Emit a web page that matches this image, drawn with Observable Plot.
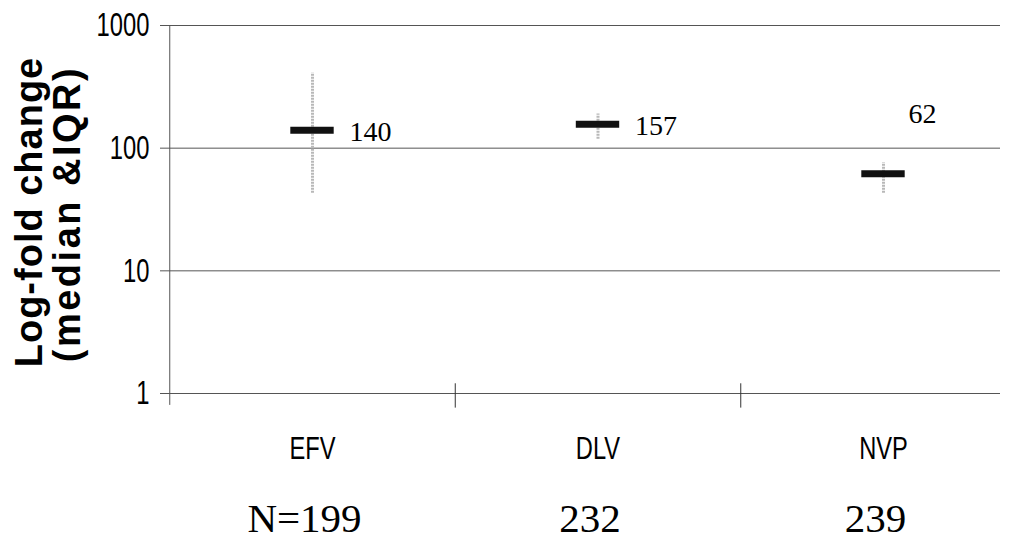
<!DOCTYPE html>
<html>
<head>
<meta charset="utf-8">
<script src="https://cdn.jsdelivr.net/npm/d3@7"></script>
<script src="https://cdn.jsdelivr.net/npm/@observablehq/plot@0.6"></script>
<style>
  html, body { margin: 0; padding: 0; background: #fff; }
  svg { display: block; }
</style>
</head>
<body>
<div id="chart"></div>
<script>
// ---- data ----
const categories = ["EFV", "DLV", "NVP"];
const medians = [140, 157, 62];
const q1 = [43, 118, 43];
const q3 = [410, 190, 76];
const nLabels = ["N=199", "232", "239"];
const yTicks = [1, 10, 100, 1000];
const titleLines = ["Log-fold change", "(median &IQR)"];

const rows = categories.map((c, i) => ({cat: c, i, median: medians[i], q1: q1[i], q3: q3[i], n: nLabels[i]}));

const serif = "'Liberation Serif', 'Times New Roman', serif";
const sans = "'Liberation Sans', Arial, sans-serif";

const chart = Plot.plot({
  width: 1013,
  height: 540,
  marginLeft: 169,
  marginRight: 13,
  marginTop: 25,
  marginBottom: 147,
  style: {background: "#fff", color: "#000", overflow: "visible"},
  x: {type: "linear", domain: [-0.5, 2.5], range: [169.25, 1025.75], axis: null},
  y: {type: "log", domain: [1, 1000], axis: null},
  marks: [
    Plot.gridY(yTicks, {stroke: "#555", strokeOpacity: 1, strokeWidth: 1}),
    // outward tick marks only (labels drawn separately below)
    Plot.axisY({ticks: yTicks, tickSize: 9, tickFormat: () => "", stroke: "#555", label: null}),
    // y tick labels
    Plot.text(yTicks, {y: d => d, frameAnchor: "left", dx: -20, textAnchor: "end",
      text: d => String(d), fontSize: 34, fontFamily: sans, fill: "#000"}),
    // y axis line
    Plot.ruleX([-0.5], {y1: 1000, y2: 0.8, stroke: "#555"}),
    // category dividers
    Plot.ruleX([0.5, 1.5], {y1: 1.2, y2: 0.76, stroke: "#333"}),
    // IQR whiskers
    Plot.ruleX(rows, {x: "i", y1: "q1", y2: "q3", stroke: "#b8b8b8", strokeWidth: 3, strokeDasharray: "2,1"}),
    // median bars
    Plot.ruleY(rows, {y: "median", x1: d => d.i - 0.076, x2: d => d.i + 0.076, stroke: "#111", strokeWidth: 7}),
    // median value labels
    Plot.text(rows.filter(d => d.cat !== "NVP"), {x: "i", y: "median", text: d => String(d.median),
      textAnchor: "start", dx: 37, dy: 2, fontSize: 28, fontFamily: serif, fill: "#000"}),
    Plot.text(rows.filter(d => d.cat === "NVP"), {x: "i", y: "median", text: d => String(d.median),
      textAnchor: "start", dx: 25, dy: -60, fontSize: 28, fontFamily: serif, fill: "#000"}),
    // category labels
    Plot.text(rows, {x: "i", frameAnchor: "bottom", text: "cat", dy: 43, lineAnchor: "top",
      fontSize: 32, fontFamily: sans, fill: "#000"}),
    // N labels
    Plot.text(rows, {x: "i", frameAnchor: "bottom", text: "n", dy: 138, lineAnchor: "bottom",
      dx: -8, fontSize: 41, fontFamily: serif, fill: "#000"})
  ]
});

const svg = d3.select(chart);

// condense tick / category labels (the reference uses a narrow sans face)
function squeeze(sel, k) {
  sel.each(function() {
    const el = d3.select(this);
    let tr = el.attr("transform") || "";
    const x = +el.attr("x") || 0, y = +el.attr("y") || 0;
    if (x || y) { tr += ` translate(${x},${y})`; el.attr("x", null).attr("y", null); }
    el.attr("transform", (tr + ` scale(${k},1)`).trim());
  });
}
const catSet = new Set(categories);
const tickSet = new Set(yTicks.map(String));
svg.selectAll("text").filter(function() { return tickSet.has(this.textContent); }).call(squeeze, 0.7);
svg.selectAll("text").filter(function() { return catSet.has(this.textContent); }).call(squeeze, 0.74);

// y-axis title, two rotated lines
const title = svg.append("g")
  .attr("font-family", sans).attr("font-weight", "bold").attr("font-size", 38)
  .attr("text-anchor", "middle").attr("fill", "#000");
title.append("text").attr("transform", "translate(42,212) rotate(-90)")
  .style("letter-spacing", "1px").text(titleLines[0]);
title.append("text").attr("transform", "translate(80,214) rotate(-90)")
  .style("letter-spacing", "2.5px").text(titleLines[1]);

document.getElementById("chart").appendChild(chart);
</script>
</body>
</html>
